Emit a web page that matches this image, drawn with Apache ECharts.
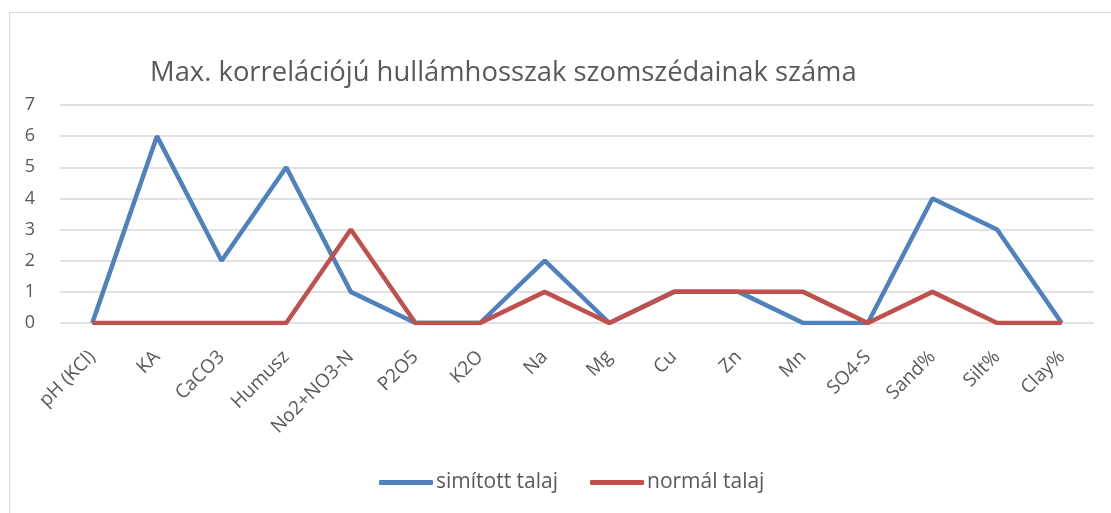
<!DOCTYPE html>
<html>
<head>
<meta charset="utf-8">
<script src="https://cdn.jsdelivr.net/npm/echarts@6/dist/echarts.min.js"></script>
<style>
html,body{margin:0;padding:0;background:#fff;}
#c{width:1111px;height:513px;}
</style>
</head>
<body>
<div id="c"></div>
<script>
const categories = ['pH (KCl)','KA','CaCO3','Humusz','No2+NO3-N','P2O5','K2O','Na','Mg','Cu','Zn','Mn','SO4-S','Sand%','Silt%','Clay%'];
const simitott = [0,6,2,5,1,0,0,2,0,1,1,0,0,4,3,0];
const normal = [0,0,0,0,3,0,0,1,0,1,1,1,0,1,0,0];
const yTicks = [0,1,2,3,4,5,6,7];
const titleText = 'Max. korrelációjú hullámhosszak szomszédainak száma';
const seriesNames = ['simított talaj','normál talaj'];

const FONT = '"Open Sans", sans-serif';
const chart = echarts.init(document.getElementById('c'));
chart.setOption({
  animation: false,
  graphic: [{
    type: 'rect', shape: {x: 9.5, y: 12.5, width: 1200, height: 600},
    style: {fill: 'none', stroke: '#d9d9d9', lineWidth: 1}, silent: true, z: -1
  }],
  title: {
    text: titleText, left: 145, top: 55,
    textStyle: {fontFamily: FONT, fontSize: 27.4, fontWeight: 'normal', color: '#595959'}
  },
  legend: {
    data: seriesNames, bottom: 15, left: 374,
    itemWidth: 54, itemHeight: 5, itemGap: 32,
    icon: 'roundRect',
    textStyle: {fontFamily: FONT, fontSize: 21, color: '#595959', padding: [0,0,0,-2]}
  },
  grid: {left: 60, right: 17, top: 105, bottom: 190, containLabel: false},
  xAxis: {
    type: 'category', data: categories, boundaryGap: true,
    axisLine: {show: false}, axisTick: {show: false},
    axisLabel: {rotate: 45, fontFamily: FONT, fontSize: 19, color: '#595959', margin: 31, interval: 0, verticalAlign: 'middle'}
  },
  yAxis: {
    type: 'value', min: 0, max: 7, interval: 1,
    axisLine: {show: false}, axisTick: {show: false},
    axisLabel: {fontFamily: FONT, fontSize: 18, color: '#595959', margin: 25},
    splitLine: {lineStyle: {color: '#d9d9d9', width: 1.5}}
  },
  series: [
    {name: seriesNames[0], type: 'line', data: simitott, symbol: 'none',
     lineStyle: {color: '#4F81BD', width: 4.5}, itemStyle: {color: '#4F81BD'}},
    {name: seriesNames[1], type: 'line', data: normal, symbol: 'none',
     lineStyle: {color: '#C0504D', width: 4.5}, itemStyle: {color: '#C0504D'}}
  ]
});
</script>
</body>
</html>
